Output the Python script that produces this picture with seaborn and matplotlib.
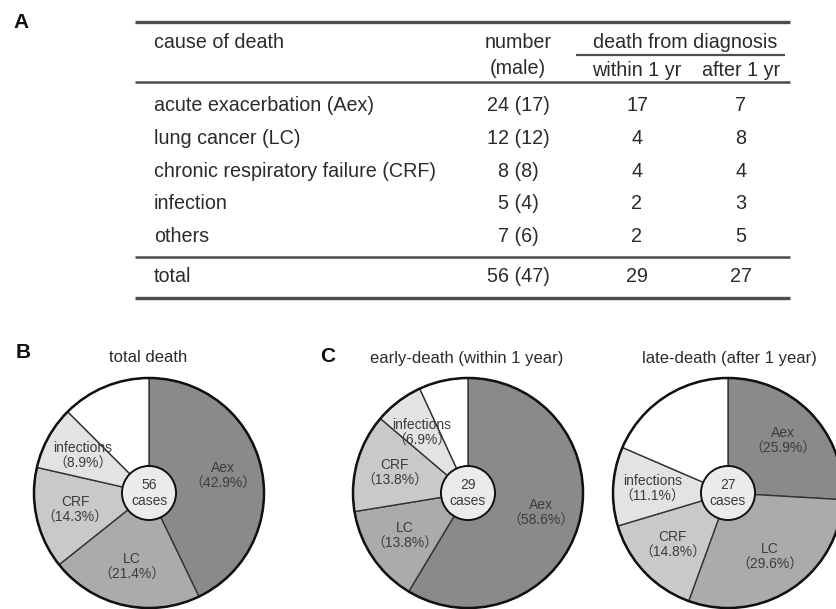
import matplotlib
matplotlib.use("Agg")
import matplotlib.pyplot as plt
from matplotlib.patches import Circle
import seaborn as sns

# ---- data -------------------------------------------------------------
causes = [
    "acute exacerbation (Aex)",
    "lung cancer (LC)",
    "chronic respiratory failure (CRF)",
    "infection",
    "others",
]
short_names = ["Aex", "LC", "CRF", "infections", ""]
deaths = [24, 12, 8, 5, 7]
male = [17, 12, 8, 4, 6]
within_1yr = [17, 4, 4, 2, 2]
after_1yr = [7, 8, 4, 3, 5]

pie_titles = ["total death", "early-death (within 1 year)", "late-death (after 1 year)"]
pie_series = [deaths, within_1yr, after_1yr]

# ---- style ------------------------------------------------------------
sns.set_theme(style="white")
plt.rcParams["font.family"] = ["Liberation Sans", "Noto Sans CJK JP", "DejaVu Sans"]
grey_shades = sns.color_palette(["#8a8a8a", "#ababab", "#c9c9c9", "#e3e3e3", "#ffffff"])
TXT = "#2b2b2b"
RULE = "#4d4d4d"

W, H = 836, 609
fig = plt.figure(figsize=(W / 100, H / 100), dpi=100)
fig.patch.set_facecolor("white")

# ---- panel A: table drawn on a pixel-coordinate canvas ----------------
tab = fig.add_axes([0, 0, 1, 1])
tab.set_xlim(0, W)
tab.set_ylim(H, 0)
tab.axis("off")

x0, x1 = 135, 790
col_cause, col_num, col_in, col_after = 154, 518, 637, 741
fs = 14.2

tab.text(21, 22, "A", fontsize=15, fontweight="bold", ha="center", va="center", color="#111")

tab.plot([x0, x1], [22, 22], color=RULE, lw=2.4, solid_capstyle="butt")
tab.text(col_cause, 43, "cause of death", fontsize=fs, color=TXT, ha="left", va="center")
tab.text(col_num, 43, "number", fontsize=fs, color=TXT, ha="center", va="center")
tab.text(col_num, 68, "(male)", fontsize=fs, color=TXT, ha="center", va="center")
tab.text(685, 43, "death from diagnosis", fontsize=fs, color=TXT, ha="center", va="center")
tab.plot([576, 785], [55, 55], color=RULE, lw=1.6, solid_capstyle="butt")
tab.text(col_in, 70, "within 1 yr", fontsize=fs, color=TXT, ha="center", va="center")
tab.text(col_after, 70, "after 1 yr", fontsize=fs, color=TXT, ha="center", va="center")
tab.plot([x0, x1], [82, 82], color=RULE, lw=1.8, solid_capstyle="butt")

row0, step = 105.5, 32.8
for i, cause in enumerate(causes):
    y = row0 + i * step
    tab.text(col_cause, y, cause, fontsize=fs, color=TXT, ha="left", va="center")
    tab.text(col_num, y, f"{deaths[i]} ({male[i]})", fontsize=fs, color=TXT, ha="center", va="center")
    tab.text(col_in, y, f"{within_1yr[i]}", fontsize=fs, color=TXT, ha="center", va="center")
    tab.text(col_after, y, f"{after_1yr[i]}", fontsize=fs, color=TXT, ha="center", va="center")

tab.plot([x0, x1], [257, 257], color=RULE, lw=1.8, solid_capstyle="butt")
ty = 277
tab.text(col_cause, ty, "total", fontsize=fs, color=TXT, ha="left", va="center")
tab.text(col_num, ty, f"{sum(deaths)} ({sum(male)})", fontsize=fs, color=TXT, ha="center", va="center")
tab.text(col_in, ty, f"{sum(within_1yr)}", fontsize=fs, color=TXT, ha="center", va="center")
tab.text(col_after, ty, f"{sum(after_1yr)}", fontsize=fs, color=TXT, ha="center", va="center")
tab.plot([x0, x1], [298, 298], color=RULE, lw=2.4, solid_capstyle="butt")

# ---- panels B and C: pie charts ----------------------------------------
tab.text(23, 352, "B", fontsize=15, fontweight="bold", ha="center", va="center", color="#111")
tab.text(328, 357, "C", fontsize=15, fontweight="bold", ha="center", va="center", color="#111")

R = 115
centres = [(149, 493), (468, 493), (728, 493)]
title_pos = [(148, 357), (467, 358), (729, 358)]


def draw_pie(cx, cy, values, title, tpos):
    ax = fig.add_axes([(cx - R) / W, 1 - (cy + R) / H, 2 * R / W, 2 * R / H])
    total = sum(values)
    labels = [
        f"{name}\n\uff08{100 * v / total:.1f}%\uff09" if name else ""
        for name, v in zip(short_names, values)
    ]
    ax.pie(
        values,
        colors=grey_shades,
        startangle=90,
        counterclock=False,
        radius=1,
        labels=labels,
        labeldistance=0.66,
        wedgeprops=dict(edgecolor="#333333", linewidth=1.0),
        textprops=dict(ha="center", va="center", fontsize=10, color="#3c3c3c", linespacing=1.15),
    )
    ax.set_xlim(-1, 1)
    ax.set_ylim(-1, 1)
    ax.set_aspect("equal")
    ax.axis("off")
    ax.add_patch(Circle((0, 0), 1, fill=False, edgecolor="#111111", linewidth=1.8, clip_on=False))
    ax.add_patch(Circle((0, 0), 0.235, facecolor="#ebebeb", edgecolor="#111111", linewidth=1.4, zorder=3))
    ax.text(0, 0, f"{total}\ncases", ha="center", va="center", fontsize=10, color="#3c3c3c",
            linespacing=1.15, zorder=4)
    tab.text(tpos[0], tpos[1], title, fontsize=12, color=TXT, ha="center", va="center")


for (cx, cy), vals, title, tpos in zip(centres, pie_series, pie_titles, title_pos):
    draw_pie(cx, cy, vals, title, tpos)

fig.savefig("out.png", dpi=100, facecolor="white")
